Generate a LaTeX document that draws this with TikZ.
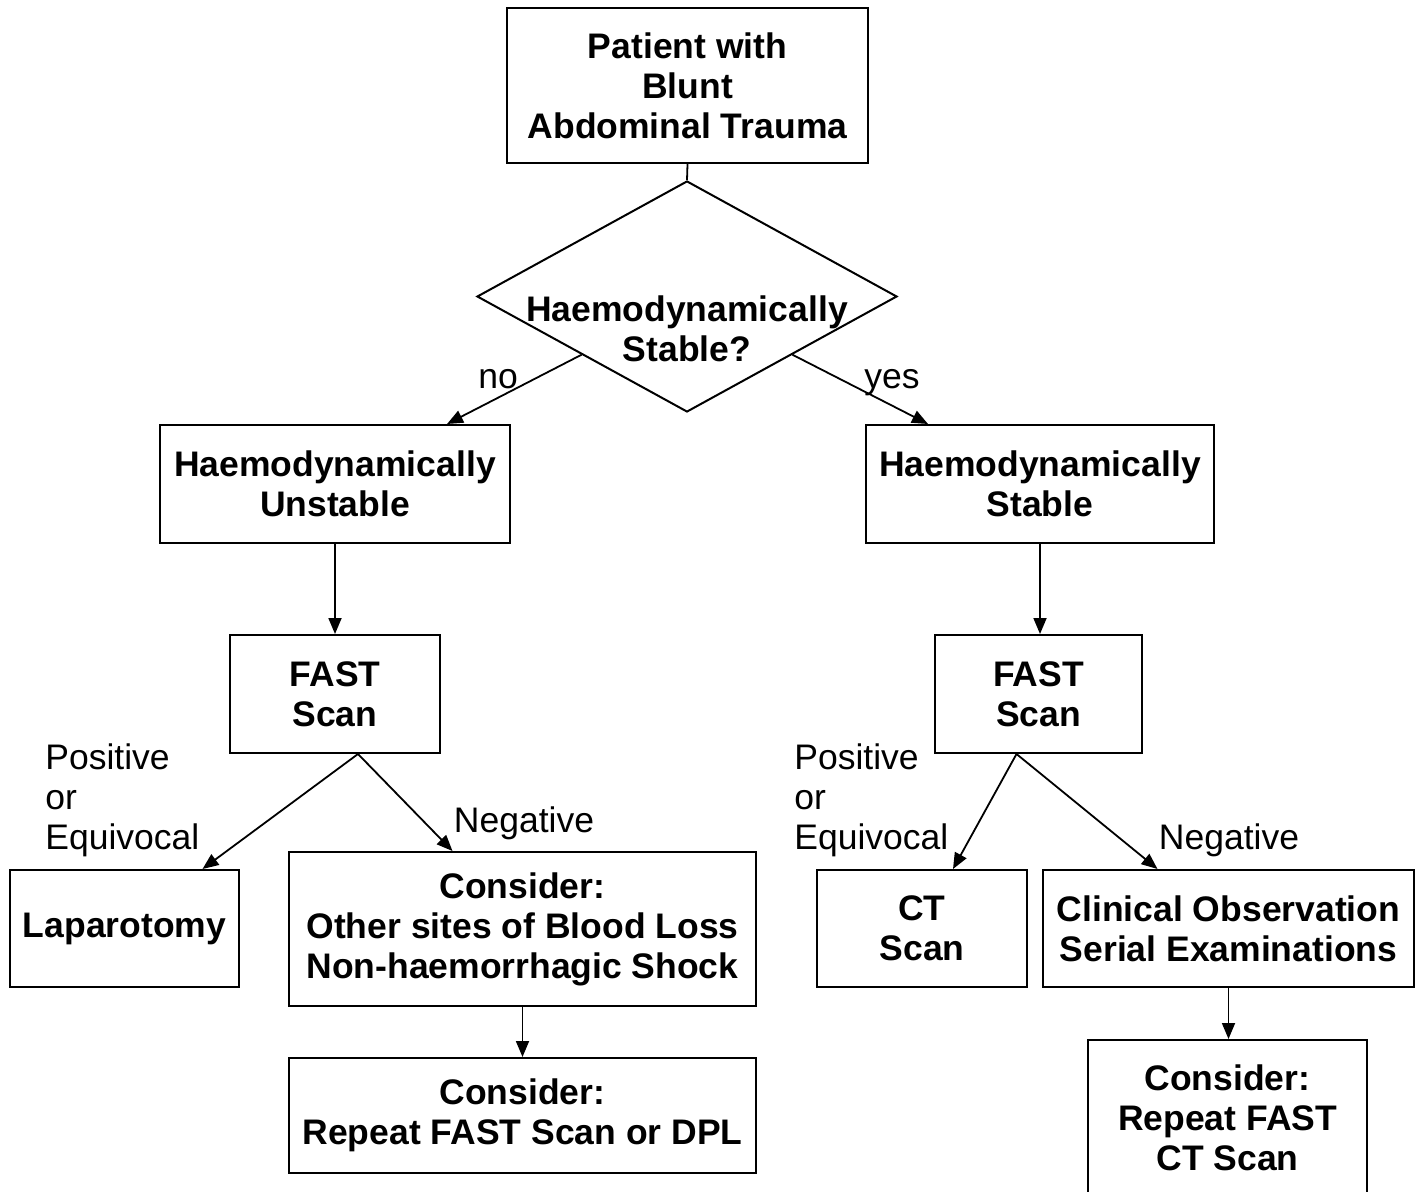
\documentclass[tikz,border=0pt]{standalone}
\usepackage{fontspec}
\setmainfont{Liberation Sans}
\usetikzlibrary{shapes.geometric,arrows.meta}
\begin{document}
\begin{tikzpicture}[x=0.5pt,y=-0.5pt,
  box/.style={draw,line width=1pt,inner sep=0pt,align=center,font=\fontsize{17.75}{20}\selectfont\bfseries},
  lbl/.style={inner sep=0pt,font=\fontsize{17.75}{20}\selectfont},
  arr/.style={line width=0.9pt,-{Triangle[length=8pt,width=6.5pt]}},
  ln/.style={line width=0.9pt}]
\useasboundingbox (0,0) rectangle (1423,1192);
\clip (0,0) rectangle (1423,1192);
\fill[white] (0,0) rectangle (1423,1192);
\node[box,minimum width=180.5pt,minimum height=77.5pt] (top) at (687.5,85.5) {Patient with\\Blunt\\Abdominal Trauma};
\node[draw,line width=1pt,shape=diamond,inner sep=0pt,minimum width=210pt,minimum height=115.5pt] (dia) at (687,296.5) {};
\node[box,draw=none] (diatxt) at (687,329) {Haemodynamically\\Stable?};
\node[box,minimum width=175pt,minimum height=59pt] (unst) at (335,484) {Haemodynamically\\Unstable};
\node[box,minimum width=174pt,minimum height=59pt] (stab) at (1040,484) {Haemodynamically\\Stable};
\node[box,minimum width=105pt,minimum height=59pt] (fastL) at (335,694) {FAST\\Scan};
\node[box,minimum width=103.5pt,minimum height=59pt] (fastR) at (1038.5,694) {FAST\\Scan};
\node[box,minimum width=114.5pt,minimum height=58.5pt] (lap) at (124.5,928.5) {Laparotomy};
\node[box,minimum width=233.5pt,minimum height=77pt] (consA) at (522.5,929) {Consider:\\Other sites of Blood Loss\\Non-haemorrhagic Shock};
\node[box,minimum width=233.5pt,minimum height=57.5pt] (consB) at (522.5,1115.5) {Consider:\\Repeat FAST Scan or DPL};
\node[box,minimum width=105pt,minimum height=58.5pt] (ct) at (922,928.5) {CT\\Scan};
\node[box,minimum width=185.5pt,minimum height=58.5pt] (clin) at (1228.5,928.5) {Clinical Observation\\Serial Examinations};
\node[box,minimum width=139.5pt,minimum height=78pt] (consC) at (1227.5,1118) {Consider:\\Repeat FAST\\CT Scan};
% labels
\node[lbl] (no) at (498,379) {no};
\node[lbl] (yes) at (892,383) {yes};
\node[lbl,anchor=west,align=left] (peL) at (45,800) {Positive\\or\\Equivocal};
\node[lbl,anchor=west,align=left] (peR) at (794,800) {Positive\\or\\Equivocal};
\node[lbl] (negL) at (524,823) {Negative};
\node[lbl] (negR) at (1229,840) {Negative};
% connectors
\draw[ln] (top.south) -- (dia.north);
\draw[arr] (dia.south west) -- ([xshift=56pt]unst.north);
\draw[arr] (dia.south east) -- ([xshift=-56pt]stab.north);
\draw[arr] (unst.south) -- (fastL.north);
\draw[arr] (stab.south) -- (stab.south |- fastR.north);
\draw[arr] ([xshift=11.5pt]fastL.south) -- ([xshift=39pt]lap.north);
\draw[arr] ([xshift=11.5pt]fastL.south) -- ([xshift=-35pt]consA.north);
\draw[arr] (consA.south) -- (consB.north);
\draw[arr] ([xshift=-11pt]fastR.south) -- ([xshift=15.5pt]ct.north);
\draw[arr] ([xshift=-11pt]fastR.south) -- ([xshift=-35.5pt]clin.north);
\draw[arr] (clin.south) -- (clin.south |- consC.north);
\end{tikzpicture}
\end{document}
